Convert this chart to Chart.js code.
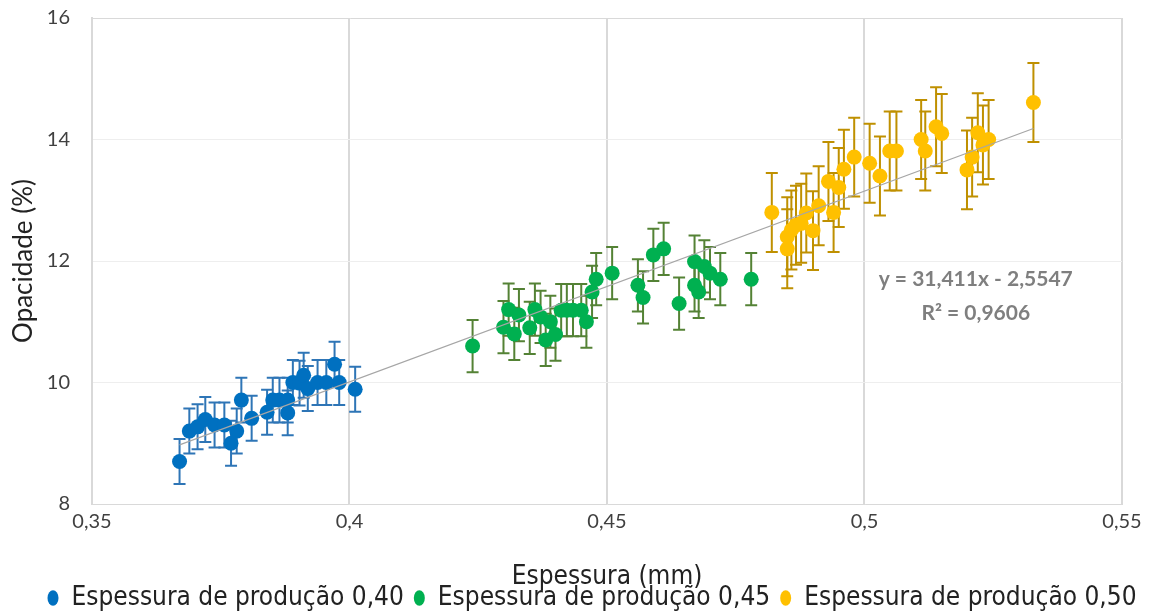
<!DOCTYPE html>
<html>
<head>
<meta charset="utf-8">
<script src="https://cdn.jsdelivr.net/npm/chart.js@4"></script>
<style>
  html, body { margin: 0; padding: 0; background: #fff; }
</style>
</head>
<body>
<canvas id="opacityChart" width="1152" height="614"></canvas>
<script>
// Espessura de produção 0,40
const blueX = [0.367, 0.3689, 0.3705, 0.372, 0.3738, 0.3757, 0.377, 0.3781, 0.379, 0.381, 0.384, 0.3851,
               0.3864, 0.388, 0.388, 0.389, 0.3903, 0.3911, 0.3919, 0.3938, 0.3955, 0.3971, 0.398, 0.4011];
const blueY = [8.70, 9.20, 9.27, 9.39, 9.30, 9.30, 9.00, 9.20, 9.71, 9.41, 9.51, 9.71,
               9.71, 9.50, 9.71, 10.00, 9.99, 10.12, 9.90, 10.00, 10.00, 10.30, 10.00, 9.89];
const blueErr = 0.37;

// Espessura de produção 0,45
const greenX = [0.4239, 0.4299, 0.4309, 0.432, 0.4329, 0.435, 0.436, 0.4371, 0.4381, 0.439, 0.44,
                0.4411, 0.4422, 0.4434, 0.445, 0.446, 0.4471, 0.4479, 0.451, 0.456, 0.457, 0.459,
                0.461, 0.464, 0.467, 0.467, 0.4678, 0.4689, 0.470, 0.472, 0.478];
const greenY = [10.60, 10.91, 11.20, 10.80, 11.11, 10.90, 11.20, 11.08, 10.70, 11.00, 10.79,
                11.19, 11.19, 11.19, 11.19, 11.00, 11.49, 11.70, 11.80, 11.60, 11.40, 12.10,
                12.20, 11.30, 11.60, 11.99, 11.49, 11.91, 11.80, 11.70, 11.70];
const greenErr = 0.43;

// Espessura de produção 0,50
const yellowX = [0.482, 0.485, 0.485, 0.4858, 0.4867, 0.4877, 0.4887, 0.490, 0.4911, 0.493, 0.494,
                 0.495, 0.496, 0.498, 0.501, 0.503, 0.5049, 0.5062, 0.511, 0.5118, 0.5139, 0.515,
                 0.5199, 0.5209, 0.522, 0.523, 0.5241, 0.5328];
const yellowY = [12.80, 12.40, 12.20, 12.51, 12.59, 12.62, 12.79, 12.50, 12.91, 13.31, 12.80,
                 13.21, 13.51, 13.71, 13.61, 13.40, 13.81, 13.81, 14.00, 13.81, 14.21, 14.10,
                 13.50, 13.71, 14.11, 13.91, 14.00, 14.61];
const yellowErr = 0.65;

const seriesNames = ["Espessura de produção 0,40", "Espessura de produção 0,45", "Espessura de produção 0,50"];

// linear trendline shown on the chart
const trendSlope = 31.411;
const trendIntercept = -2.5547;
const trendX = [0.367, 0.5328];
const trendText = ["y = 31,411x - 2,5547", "R² = 0,9606"];

const xTickLabels = ["0,35", "0,4", "0,45", "0,5", "0,55"];
const yTickLabels = ["8", "10", "12", "14", "16"];

function points(xs, ys) {
  return xs.map((v, i) => ({ x: v, y: ys[i] }));
}

const errorBars = {
  id: "errorBars",
  beforeDatasetsDraw(chart) {
    const { ctx, scales: { x, y } } = chart;
    chart.data.datasets.forEach(ds => {
      if (ds.errors === undefined) return;
      ctx.save();
      ctx.strokeStyle = ds.errorColor;
      ctx.lineWidth = 2;
      ds.data.forEach(p => {
        const px = x.getPixelForValue(p.x);
        const top = y.getPixelForValue(p.y + ds.errors);
        const bot = y.getPixelForValue(p.y - ds.errors);
        ctx.beginPath();
        ctx.moveTo(px, top); ctx.lineTo(px, bot);
        ctx.moveTo(px - 6, top); ctx.lineTo(px + 6, top);
        ctx.moveTo(px - 6, bot); ctx.lineTo(px + 6, bot);
        ctx.stroke();
      });
      ctx.restore();
    });
  }
};

const trendLabel = {
  id: "trendLabel",
  afterDraw(chart) {
    const { ctx, scales: { x, y } } = chart;
    ctx.save();
    ctx.font = "bold 21px Lato";
    ctx.fillStyle = "#7f7f7f";
    ctx.textAlign = "center";
    ctx.textBaseline = "middle";
    const cx = x.getPixelForValue(0.5216);
    ctx.fillText(trendText[0], cx, y.getPixelForValue(11.70));
    ctx.fillText(trendText[1], cx, y.getPixelForValue(11.14));
    ctx.restore();
  }
};

// the legend sits a bit right of centre in the original
const legendShift = {
  id: "legendShift",
  afterLayout(chart) {
    chart.legend.left += 31;
    chart.legend.right += 31;
  }
};

const ctx = document.getElementById("opacityChart").getContext("2d");
new Chart(ctx, {
  type: "scatter",
  data: {
    datasets: [
      {
        label: seriesNames[0],
        data: points(blueX, blueY),
        backgroundColor: "#0070c0",
        errors: blueErr,
        errorColor: "#2e75b6",
        pointRadius: 7.5,
        borderWidth: 0,
        order: 1
      },
      {
        label: seriesNames[1],
        data: points(greenX, greenY),
        backgroundColor: "#00b050",
        errors: greenErr,
        errorColor: "#548235",
        pointRadius: 7.5,
        borderWidth: 0,
        order: 1
      },
      {
        label: seriesNames[2],
        data: points(yellowX, yellowY),
        backgroundColor: "#ffc000",
        errors: yellowErr,
        errorColor: "#bf9000",
        pointRadius: 7.5,
        borderWidth: 0,
        order: 1
      },
      {
        label: "trend",
        data: trendX.map(v => ({ x: v, y: trendSlope * v + trendIntercept })),
        showLine: true,
        borderColor: "#a6a6a6",
        borderWidth: 1.2,
        pointRadius: 0,
        order: 0
      }
    ]
  },
  options: {
    responsive: false,
    animation: false,
    layout: { padding: { top: 18, right: 30, left: 0, bottom: 0 } },
    plugins: {
      tooltip: { enabled: false },
      legend: {
        position: "bottom",
        maxHeight: 39,
        labels: {
          filter: item => item.datasetIndex < 3,
          usePointStyle: true,
          pointStyle: "circle",
          pointStyleWidth: 11,
          boxHeight: 11,
          padding: 10,
          color: "#222",
          font: { family: "DejaVu Sans Condensed", size: 26 }
        }
      }
    },
    scales: {
      x: {
        type: "linear",
        min: 0.35,
        max: 0.55,
        afterFit: s => { s.height = 71; },
        afterBuildTicks: s => {
          s.ticks = xTickLabels.map((t, i) => ({ value: 0.35 + i * 0.05 }));
        },
        ticks: {
          callback: (v, i) => xTickLabels[i],
          padding: 6,
          color: "#404040",
          font: { family: "Lato", size: 20 }
        },
        grid: {
          color: "#d9d9d9",
          lineWidth: 2,
          drawTicks: false
        },
        border: { color: "#d9d9d9", width: 1 },
        title: {
          display: true,
          text: "Espessura (mm)",
          color: "#222",
          font: { family: "DejaVu Sans Condensed", size: 26, lineHeight: 1 },
          padding: { top: 0, bottom: -15 }
        }
      },
      y: {
        min: 8,
        max: 16,
        afterFit: s => { s.width = 92; s.paddingTop = 8; s.paddingBottom = 8; },
        afterBuildTicks: s => {
          s.ticks = yTickLabels.map(t => ({ value: +t }));
        },
        ticks: {
          callback: (v, i) => yTickLabels[i],
          padding: 22,
          color: "#404040",
          font: { family: "Lato", size: 20 }
        },
        grid: {
          color: c => (c.tick && c.tick.value === 16 ? "#d9d9d9" : "#eeeeee"),
          lineWidth: 1,
          drawTicks: false
        },
        border: { color: "#d9d9d9", width: 2 },
        title: {
          display: true,
          text: "Opacidade (%)",
          color: "#222",
          font: { family: "Lato", size: 26, lineHeight: 1.2 },
          padding: { top: 8, bottom: 0 }
        }
      }
    }
  },
  plugins: [errorBars, trendLabel, legendShift]
});
</script>
</body>
</html>
